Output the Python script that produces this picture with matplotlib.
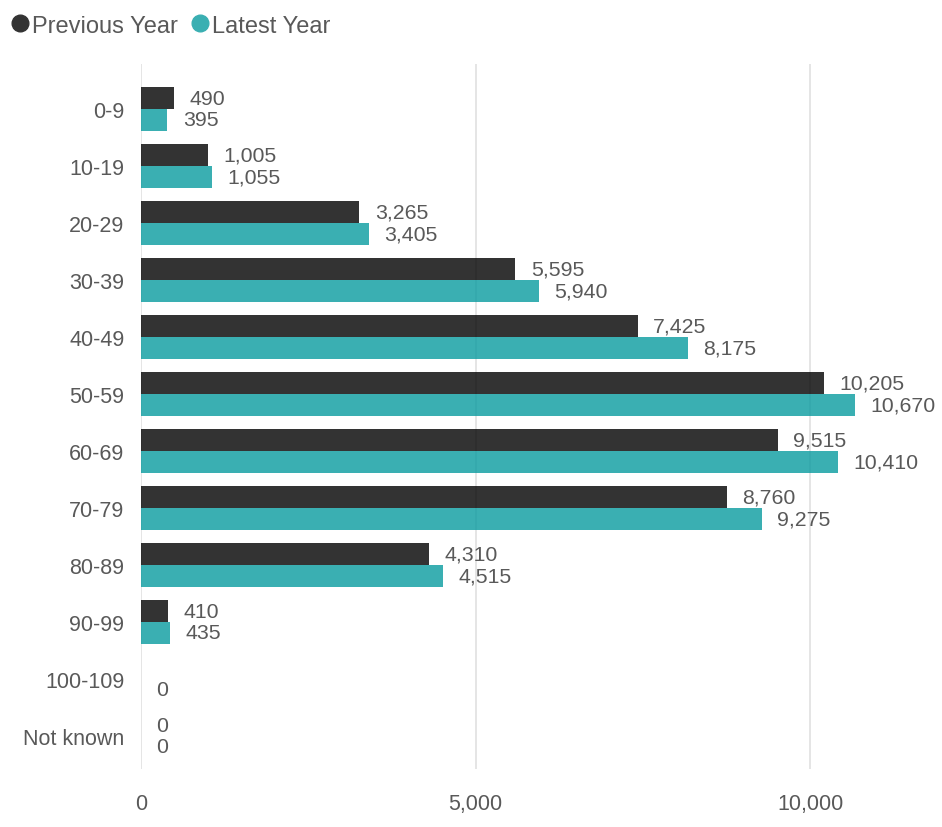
import matplotlib.pyplot as plt
import numpy as np
from matplotlib.lines import Line2D

plt.rcParams['font.family'] = ['Liberation Sans', 'DejaVu Sans']

# age bands and counts
ages = ['0-9', '10-19', '20-29', '30-39', '40-49', '50-59', '60-69',
        '70-79', '80-89', '90-99', '100-109', 'Not known']
prev_year = [490, 1005, 3265, 5595, 7425, 10205, 9515, 8760, 4310, 410, None, 0]
latest_year = [395, 1055, 3405, 5940, 8175, 10670, 10410, 9275, 4515, 435, 0, 0]

dark = '#000000'
teal = '#099b9f'
txt = '#595959'

fig = plt.figure(figsize=(9.42, 8.28), dpi=100)
ax = fig.add_axes([141 / 942, 58 / 828, (932 - 141) / 942, (763 - 58) / 828])

ind = np.arange(len(ages))
h = 0.38
off = 0.19

pv = [v if v is not None else 0 for v in prev_year]
ax.barh(ind - off, pv, height=h, color=dark, alpha=0.8, zorder=2)
ax.barh(ind + off, latest_year, height=h, color=teal, alpha=0.8, zorder=2)

for i in range(len(ages)):
    if prev_year[i] is not None:
        ax.annotate(f'{prev_year[i]:,}', (prev_year[i], i - off), xytext=(11, 0),
                    textcoords='offset points', va='center', ha='left',
                    fontsize=15.3, color=txt)
    ax.annotate(f'{latest_year[i]:,}', (latest_year[i], i + off), xytext=(11, 0),
                textcoords='offset points', va='center', ha='left',
                fontsize=15.3, color=txt)

ax.set_xlim(0, 11820)
ax.set_ylim(len(ages) - 1 + 0.58, -0.79)
ax.set_yticks(ind)
ax.set_yticklabels(ages)
ax.set_xticks([0, 5000, 10000])
ax.set_xticklabels(['0', '5,000', '10,000'])
ax.tick_params(axis='y', length=0, pad=12, labelsize=15.5, labelcolor=txt)
ax.tick_params(axis='x', length=0, pad=17, labelsize=15.5, labelcolor=txt)
for s in ax.spines.values():
    s.set_visible(False)
ax.grid(axis='x', color='#e0e0e0', linewidth=1.2, zorder=0)
ax.set_axisbelow(True)

handles = [Line2D([], [], marker='o', linestyle='none', markersize=12,
                  markerfacecolor='#333333', markeredgecolor='#333333'),
           Line2D([], [], marker='o', linestyle='none', markersize=12,
                  markerfacecolor='#3aafb2', markeredgecolor='#3aafb2')]
fig.legend(handles, ['Previous Year', 'Latest Year'], loc='upper left',
           bbox_to_anchor=(-0.009, 1.001), ncol=2, frameon=False, fontsize=17,
           labelcolor=txt, handletextpad=0.0, columnspacing=0.45,
           handlelength=1.0, borderaxespad=0.3)

plt.savefig('out.png', dpi=100)
